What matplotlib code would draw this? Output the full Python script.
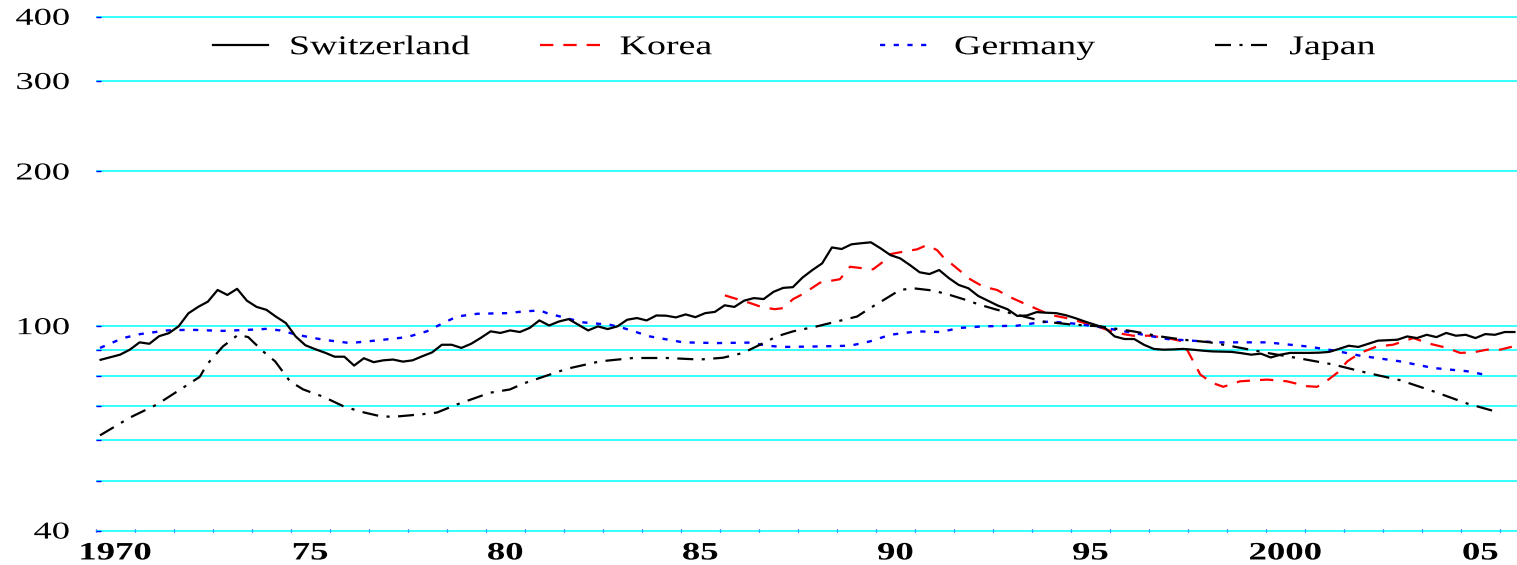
import numpy as np
import matplotlib.pyplot as plt
from matplotlib.legend import Legend
from matplotlib.patheffects import AbstractPathEffect
from matplotlib.transforms import Affine2D
from matplotlib.ticker import FixedLocator, NullLocator

plt.rcParams['font.family'] = ['Liberation Serif', 'DejaVu Serif']

# Switzerland, quarterly from 1970Q1
sw_v = [86.0, 87.0, 88.0, 90.0,
        93.0, 92.4, 95.6, 96.9,
        99.9, 105.9, 109.0, 111.6,
        117.6, 115.0, 118.2, 112.1,
        109.0, 107.6, 104.3, 101.4,
        95.5, 91.8, 90.2, 88.8,
        87.2, 87.2, 83.8, 86.6,
        85.1, 85.8, 86.1, 85.3,
        85.8, 87.4, 88.9, 92.0,
        92.0, 90.7, 92.4, 94.9,
        97.7, 97.0, 98.1, 97.4,
        99.2, 102.6, 100.3, 102.1,
        103.2, 100.6, 98.1, 99.9,
        98.7, 99.9, 102.9, 103.7,
        102.6, 104.9, 104.8, 104.0,
        105.4, 104.1, 106.0, 106.6,
        109.8, 109.0, 112.1, 113.4,
        112.9, 116.6, 118.7, 119.1,
        124.4, 128.6, 132.5, 142.3,
        141.3, 144.3, 145.0, 145.6,
        141.7, 137.5, 135.5, 131.5,
        127.3, 126.3, 128.6, 124.0,
        120.3, 118.5, 114.5, 112.1,
        109.7, 107.9, 104.7, 104.9,
        106.5, 106.2, 106.0, 105.0,
        103.6, 102.0, 100.6, 99.2,
        95.5, 94.4, 94.4, 92.0,
        90.3, 90.0, 90.1, 90.3,
        90.0, 89.6, 89.3, 89.2,
        89.1, 88.6, 88.0, 88.4,
        86.9, 88.0, 88.7, 88.7,
        88.7, 88.8, 89.1, 90.3,
        91.6, 91.1, 92.4, 93.7,
        93.9, 94.1, 95.5, 94.8,
        96.2, 95.2, 97.0, 95.8,
        96.2, 94.8, 96.5, 96.2,
        97.4, 97.4]
sw_t = 1970.125 + 0.25 * np.arange(len(sw_v))

kr_t = [1986.13, 1986.44, 1986.78, 1987.08, 1987.41, 1987.62, 1987.88, 1988.14,
        1988.57, 1989.08, 1989.34, 1989.67, 1989.93, 1990.19, 1990.37, 1990.70,
        1991.06, 1991.31, 1991.57, 1991.72, 1992.08, 1992.42, 1992.75, 1993.11,
        1993.44, 1993.78, 1994.14, 1994.47, 1994.86, 1995.24, 1995.75, 1996.18,
        1996.60, 1997.03, 1997.47, 1997.88, 1997.98, 1998.32, 1998.62, 1998.91,
        1999.34, 2000.03, 2000.54, 2001.06, 2001.31, 2001.47, 2001.83, 2002.09,
        2002.42, 2002.85, 2003.26, 2003.78, 2004.21, 2004.65, 2004.98, 2005.31,
        2005.67, 2006.01, 2006.34]
kr_v = [114.8, 112.9, 110.9, 108.9, 107.9, 108.4, 112.9, 115.6,
        121.5, 123.4, 130.5, 129.6, 129.0, 133.5, 138.1, 139.6,
        141.1, 143.8, 140.6, 136.5, 129.6, 123.4, 119.4, 117.6,
        113.9, 110.9, 107.9, 105.2, 103.8, 102.0, 99.4, 97.0,
        95.8, 95.8, 94.8, 93.4, 90.0, 80.5, 77.6, 76.2,
        78.1, 78.7, 78.1, 76.4, 76.2, 77.3, 81.1, 85.4,
        88.7, 91.3, 92.0, 94.8, 92.4, 90.7, 88.7, 88.9,
        90.0, 90.0, 91.3]

de_t = [1970.11, 1970.70, 1971.14, 1971.83, 1972.42, 1973.26, 1973.96, 1974.39,
        1974.73, 1975.16, 1975.83, 1976.52, 1977.21, 1977.98, 1978.49, 1978.91,
        1979.26, 1979.78, 1980.54, 1980.96, 1981.39, 1981.57, 1981.91, 1982.50,
        1983.19, 1983.52, 1984.21, 1985.06, 1985.93, 1986.78, 1987.21, 1987.62,
        1988.49, 1989.34, 1989.85, 1990.37, 1991.06, 1991.65, 1992.16, 1992.75,
        1993.62, 1994.21, 1994.47, 1995.11, 1995.75, 1996.60, 1997.47, 1998.75,
        2000.03, 2001.06, 2001.73, 2002.42, 2003.44, 2004.29, 2005.16, 2005.67]
de_v = [90.7, 94.8, 96.5, 98.1, 98.4, 97.9, 98.4, 98.8,
        98.1, 96.2, 94.1, 92.7, 93.8, 95.2, 97.7, 101.4,
        104.4, 105.7, 106.0, 106.8, 107.3, 106.0, 104.4, 101.7,
        100.6, 99.2, 95.5, 93.0, 92.7, 92.9, 91.6, 91.1,
        91.3, 91.6, 93.4, 96.2, 97.7, 97.4, 99.2, 99.9,
        100.2, 101.7, 102.1, 101.1, 99.6, 97.0, 94.4, 93.0,
        93.0, 91.3, 89.7, 87.6, 85.4, 82.9, 81.7, 80.3]

jp_t = [1970.11, 1970.88, 1971.57, 1972.24, 1972.67, 1972.85, 1973.26, 1973.65,
        1973.91, 1974.29, 1974.60, 1974.98, 1975.32, 1975.83, 1976.34, 1976.78,
        1977.29, 1977.62, 1978.39, 1978.75, 1979.26, 1979.67, 1980.11, 1980.62,
        1980.96, 1981.39, 1982.08, 1982.93, 1983.78, 1984.65, 1985.49, 1986.08,
        1986.60, 1987.03, 1987.46, 1987.88, 1988.49, 1989.00, 1989.52, 1989.85,
        1990.19, 1990.62, 1990.96, 1991.47, 1991.90, 1992.24, 1992.68, 1993.11,
        1993.52, 1993.95, 1994.29, 1994.98, 1995.75, 1996.60, 1997.29, 1997.88,
        1998.57, 1999.16, 2000.03, 2000.88, 2001.73, 2002.60, 2003.44, 2004.29,
        2005.16, 2006.01]
jp_v = [61.3, 66.4, 70.4, 75.9, 79.7, 84.2, 91.3, 96.2,
        95.2, 89.3, 85.4, 78.1, 75.3, 72.9, 69.9, 68.2,
        66.8, 66.6, 67.4, 67.9, 70.4, 72.2, 74.2, 75.3,
        77.3, 79.3, 82.6, 85.4, 86.7, 86.7, 86.1, 86.8,
        88.7, 92.0, 95.5, 97.7, 99.9, 102.1, 104.4, 108.4,
        112.3, 117.6, 118.5, 117.3, 115.0, 112.9, 110.0, 107.6,
        105.7, 103.7, 102.1, 100.8, 99.9, 97.7, 95.5, 94.1,
        93.0, 91.3, 88.7, 86.5, 84.2, 81.1, 78.5, 74.7,
        70.7, 67.8]

y_ticks = [40, 50, 60, 70, 80, 90, 100, 200, 300, 400]
y_labels = ['40', '', '', '', '', '', '100', '200', '300', '400']
x_label_years = [1970, 1975, 1980, 1985, 1990, 1995, 2000, 2005]
x_labels = ['1970', '75', '80', '85', '90', '95', '2000', '05']


class Widen(AbstractPathEffect):
    """Draw text glyphs stretched horizontally about an anchor."""

    def __init__(self, sx, anchor=0.0):
        super().__init__()
        self.sx = sx
        self.anchor = anchor

    def draw_path(self, renderer, gc, tpath, affine, rgbFace=None):
        ext = tpath.get_extents()
        cx = ext.x0 + self.anchor * ext.width
        warp = Affine2D().translate(-cx, 0).scale(self.sx, 1).translate(cx, 0)
        renderer.draw_path(gc, tpath, warp + affine, rgbFace)


fig = plt.figure(figsize=(15.17, 5.65), dpi=100)
ax = fig.add_axes([0.0631, 0.0589, 0.9369, 0.9133])
ax.set_yscale('log')
ax.set_ylim(39.8, 402)
ax.set_xlim(1970, 2006.44)

l_sw, = ax.plot(sw_t, sw_v, color='black', lw=1.6, zorder=4)
l_kr, = ax.plot(kr_t, kr_v, color='#ff0000', lw=1.6, dashes=(6, 4.5), zorder=3)
l_de, = ax.plot(de_t, de_v, color='#0000ff', lw=1.7, dashes=(2.2, 3.6), zorder=3)
l_jp, = ax.plot(jp_t, jp_v, color='black', lw=1.6, dashes=(7.2, 3.8, 1.4, 3.8), zorder=3)

for s in ax.spines.values():
    s.set_visible(False)

ax.yaxis.set_major_locator(FixedLocator(y_ticks))
ax.yaxis.set_minor_locator(NullLocator())
ax.set_yticks(y_ticks, y_labels)
ax.grid(axis='y', color='#00ffff', lw=1.1, zorder=1)
ax.set_axisbelow(True)
ax.tick_params(axis='y', which='major', direction='in', length=3.6, width=1.0,
               color='#0000ff', labelsize=17.5, pad=19)

ax.set_xticks([y + 0.5 for y in x_label_years], x_labels)
ax.xaxis.set_minor_locator(FixedLocator(np.arange(1970, 2007)))
ax.tick_params(axis='x', which='major', length=0, labelsize=18, pad=7)
ax.tick_params(axis='x', which='minor', direction='in', length=2.5, width=0.9,
               color='#0000ff')
for lab in ax.get_xticklabels():
    lab.set_fontweight('bold')
    lab.set_path_effects([Widen(1.47, 0.5)])
for lab in ax.get_yticklabels():
    lab.set_path_effects([Widen(1.5, 1.0)])

# one key per series, placed in fixed columns across the top
keys = [(l_sw, 'Switzerland', 0.0825, 2.03, 0.8),
        (l_kr, 'Korea', 0.3126, 2.4, 0.55),
        (l_de, 'Germany', 0.5518, 1.85, 0.9),
        (l_jp, 'Japan', 0.7875, 2.2, 0.55)]
for line, name, xk, hl, tp in keys:
    leg = Legend(ax, [line], [name], loc='center left', bbox_to_anchor=(xk, 0.938),
                 frameon=False, borderpad=0, borderaxespad=0, handlelength=hl,
                 handletextpad=tp, fontsize=19.5)
    for t in leg.get_texts():
        t.set_path_effects([Widen(1.4, 0.0)])
    ax.add_artist(leg)

fig.savefig('out.png', dpi=100)
